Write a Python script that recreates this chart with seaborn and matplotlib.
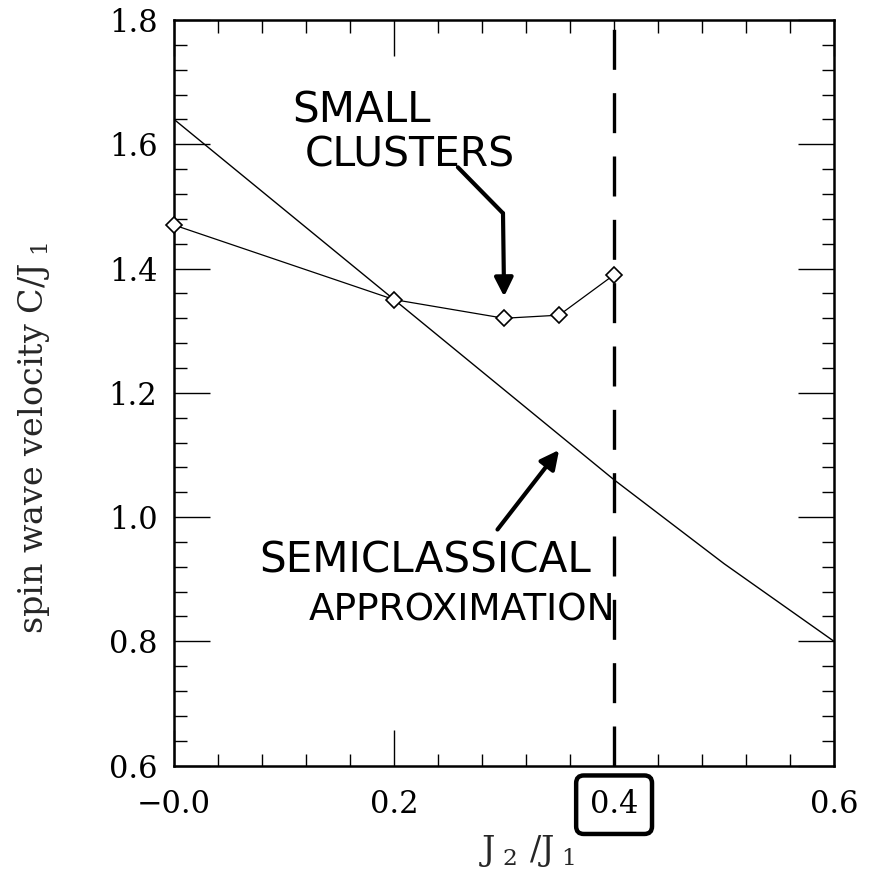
import matplotlib
matplotlib.use("Agg")
import matplotlib.pyplot as plt
import seaborn as sns
import numpy as np
import pandas as pd
from matplotlib.ticker import MultipleLocator, FixedLocator
from matplotlib import font_manager

# ---- data ----
semi_x = [0.0, 0.2, 0.4, 0.5, 0.6]
semi_y = [1.64, 1.35, 1.06, 0.925, 0.80]

clus_x = [0.0, 0.2, 0.3, 0.35, 0.4]
clus_y = [1.47, 1.35, 1.32, 1.325, 1.39]

critical_x = 0.4

x_ticks = [0.0, 0.2, 0.4, 0.6]
x_ticklabels = ["\u22120.0", "0.2", "0.4", "0.6"]
y_ticks = [0.6, 0.8, 1.0, 1.2, 1.4, 1.6, 1.8]
y_ticklabels = ["0.6", "0.8", "1.0", "1.2", "1.4", "1.6", "1.8"]

sns.set_style("ticks")
plt.rcParams["font.family"] = ["DejaVu Serif"]
plt.rcParams["mathtext.fontset"] = "dejavuserif"

names = {f.name for f in font_manager.fontManager.ttflist}
if "Liberation Sans Narrow" in names:
    hand_family, hs = "Liberation Sans Narrow", 1.0
else:
    hand_family, hs = "DejaVu Sans", 0.84

fig = plt.figure(figsize=(8.93, 8.71), dpi=100)
ax = fig.add_axes([0.195, 0.121, 0.739, 0.856])

semi_df = pd.DataFrame({"x": semi_x, "y": semi_y})
clus_df = pd.DataFrame({"x": clus_x, "y": clus_y})

sns.lineplot(data=semi_df, x="x", y="y", ax=ax, color="black", lw=1.0,
             sort=False, estimator=None)
sns.lineplot(data=clus_df, x="x", y="y", ax=ax, color="black", lw=0.9,
             sort=False, estimator=None, marker="D", markersize=8.5,
             markerfacecolor="white", markeredgecolor="black",
             markeredgewidth=1.2, clip_on=False, zorder=4)

ax.axvline(critical_x, color="black", lw=2.4, dashes=(12, 7), zorder=3)

ax.set_xlim(0.0, 0.6)
ax.set_ylim(0.6, 1.8)
ax.xaxis.set_major_locator(FixedLocator(x_ticks))
ax.set_xticklabels(x_ticklabels)
ax.yaxis.set_major_locator(FixedLocator(y_ticks))
ax.set_yticklabels(y_ticklabels)
ax.xaxis.set_minor_locator(MultipleLocator(0.04))
ax.yaxis.set_minor_locator(MultipleLocator(0.04))
ax.tick_params(which="both", direction="in", top=True, right=True,
               width=1.0, colors="black")
ax.tick_params(which="major", length=26, labelsize=22)
ax.tick_params(axis="y", which="major", pad=12)
ax.tick_params(axis="x", which="major", pad=17)
ax.tick_params(which="minor", length=9)
for s in ax.spines.values():
    s.set_linewidth(1.8)
    s.set_color("black")

# box around the 0.4 label
for lab in ax.get_xticklabels():
    if lab.get_text() == "0.4":
        lab.set_bbox(dict(boxstyle="round,pad=0.45,rounding_size=0.25",
                          fc="white", ec="black", lw=3.2))

ax.set_xlabel("J$_{\\ 2}$ /J$_{\\ 1}$", fontsize=24)
ax.xaxis.set_label_coords(0.535, -0.09)
ax.set_ylabel("spin wave velocity C/J$_{\\ 1}$", fontsize=24)
ax.yaxis.set_label_coords(-0.185, 0.44)

hand = dict(family=hand_family, color="black", ha="center", va="center")
ax.text(0.170, 1.655, "SMALL", fontsize=36 * hs, **hand)
ax.text(0.214, 1.582, "CLUSTERS", fontsize=35 * hs, **hand)
ax.text(0.228, 0.930, "SEMICLASSICAL", fontsize=36 * hs, **hand)
ax.text(0.262, 0.850, "APPROXIMATION", fontsize=32 * hs, **hand)

ax.plot([0.258, 0.299], [1.563, 1.489], color="black", lw=3.0,
        solid_capstyle="round")
ax.annotate("", xy=(0.300, 1.355), xytext=(0.299, 1.489),
            arrowprops=dict(arrowstyle="-|>", lw=3.0, color="black",
                            mutation_scale=28, shrinkA=0, shrinkB=0))
ax.annotate("", xy=(0.350, 1.108), xytext=(0.294, 0.980),
            arrowprops=dict(arrowstyle="-|>", lw=3.0, color="black",
                            mutation_scale=28, shrinkA=0, shrinkB=0))

fig.savefig("out.png", dpi=100)
